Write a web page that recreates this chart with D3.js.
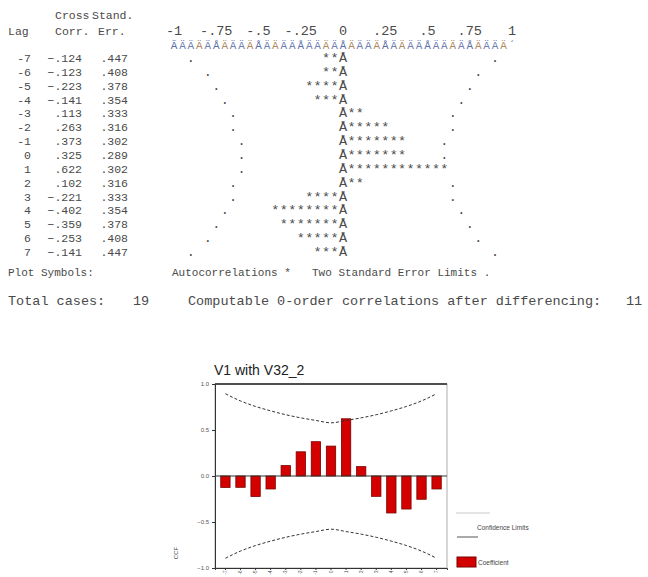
<!DOCTYPE html>
<html><head><meta charset="utf-8">
<script src="https://cdn.jsdelivr.net/npm/d3@7"></script>
<style>
html,body{margin:0;padding:0;background:#fff;}
svg{display:block;}
.mono{font-family:"Liberation Mono","DejaVu Sans Mono",monospace;font-size:13.5px;fill:#4a4a4a;}
.tbl{font-size:11.5px;}
.sans{font-family:"Liberation Sans",Arial,sans-serif;}
</style></head>
<body>
<svg id="c" width="648" height="577"></svg>
<script>
// ---- data ----
const lags = [-7,-6,-5,-4,-3,-2,-1,0,1,2,3,4,5,6,7];
const corr = [-.124,-.123,-.223,-.141,.113,.263,.373,.325,.622,.102,-.221,-.402,-.359,-.253,-.141];
const stdErr = [.447,.408,.378,.354,.333,.316,.302,.289,.302,.316,.333,.354,.378,.408,.447];
const scaleTicks = [-1,-.75,-.5,-.25,0,.25,.5,.75,1];
const scaleLabels = ["-1","-.75","-.5","-.25","0",".25",".5",".75","1"];
const yTicks = [1.0,0.5,0.0,-0.5,-1.0];
const chartTitle = "V1 with V32_2";
const footer1 = ["Plot Symbols:","Autocorrelations *","Two Standard Error Limits ."];
const footer2 = ["Total cases:","19","Computable 0-order correlations after differencing:","11"];
const legendLabels = ["Confidence Limits","Coefficient"];

const svg = d3.select("#c");
const fmt = v => d3.format(".3f")(v).replace("0.", ".");

// ---- text table ----
const ax = d3.scaleLinear().domain([-1,1]).range([174,512]);
const rowY = d3.scaleLinear().domain([0,14]).range([62,256]);

svg.append("text").attr("class","mono tbl").attr("x",55).attr("y",19).text("Cross");
svg.append("text").attr("class","mono tbl").attr("x",92).attr("y",19).text("Stand.");
svg.append("text").attr("class","mono tbl").attr("x",8).attr("y",35).text("Lag");
svg.append("text").attr("class","mono tbl").attr("x",55).attr("y",35).text("Corr.");
svg.append("text").attr("class","mono tbl").attr("x",98).attr("y",35).text("Err.");
svg.selectAll("text.sl").data(scaleTicks).join("text").attr("class","mono sl")
  .attr("x",d=>ax(d)).attr("y",35).attr("text-anchor","middle")
  .text((d,i)=>scaleLabels[i]);

// axis line of box chars
const cols = d3.range(-20,21);
svg.selectAll("text.ln").data(cols).join("text").attr("class","mono ln")
  .attr("x",k=>ax(k*0.05)).attr("y",49).attr("text-anchor","middle")
  .style("fill",k=> (k%5===0) ? "#5a6ea8" : ((k+20)%3===0 ? "#b08a60" : "#6f7fb0"))
  .style("font-size","11px")
  .text(k=> k===-20 ? "Ã" : (k===20 ? "´" : (k%5===0 ? "Å" : "Ä")));

const rows = svg.append("g");
lags.forEach((lag,i)=>{
  const y = rowY(i);
  rows.append("text").attr("class","mono tbl").attr("x",31).attr("y",y).attr("text-anchor","end").text(lag);
  rows.append("text").attr("class","mono tbl").attr("x",82).attr("y",y).attr("text-anchor","end").text(fmt(corr[i]));
  rows.append("text").attr("class","mono tbl").attr("x",128).attr("y",y).attr("text-anchor","end").text(fmt(stdErr[i]));
  const n = Math.round(corr[i]/0.05);
  const lim = Math.round(2*stdErr[i]/0.05);
  const chars = [];
  cols.forEach(k=>{
    let c = null;
    if (k===lim || k===-lim) c = ".";
    if (n>0 && k>0 && k<=n) c = "*";
    if (n<0 && k<0 && k>=n) c = "*";
    if (k===0) c = "Å";
    if (c) chars.push({k,c});
  });
  rows.selectAll(null).data(chars).join("text").attr("class","mono")
    .attr("x",d=>ax(d.k*0.05)).attr("y",y).attr("text-anchor","middle").text(d=>d.c);
});

svg.append("text").attr("class","mono").attr("x",8).attr("y",276).style("font-size","11px").text(footer1[0]);
svg.append("text").attr("class","mono").attr("x",172).attr("y",276).style("font-size","11px").text(footer1[1]);
svg.append("text").attr("class","mono").attr("x",312).attr("y",276).style("font-size","11px").text(footer1[2]);
svg.append("text").attr("class","mono").attr("x",8).attr("y",305).text(footer2[0]);
svg.append("text").attr("class","mono").attr("x",133).attr("y",305).text(footer2[1]);
svg.append("text").attr("class","mono").attr("x",188).attr("y",305).text(footer2[2]);
svg.append("text").attr("class","mono").attr("x",626).attr("y",305).text(footer2[3]);

// ---- bar chart ----
const L=215, R=447, T=384, B=568;
const x = d3.scaleBand().domain(lags).range([L,R]).padding(0.38);
const y = d3.scaleLinear().domain([-1,1]).range([B,T]);

svg.append("text").attr("class","sans").attr("x",214).attr("y",375)
  .style("font-size","14px").style("fill","#222").text(chartTitle);

// frame
svg.append("rect").attr("x",L).attr("y",T).attr("width",R-L).attr("height",B-T)
  .attr("fill","#fff").attr("stroke","#999").attr("stroke-width",0.8);
svg.append("line").attr("x1",L).attr("x2",R).attr("y1",T).attr("y2",T).attr("stroke","#222").attr("stroke-width",1.5);

// y axis
const yAxis = d3.axisLeft(y).tickValues(yTicks).tickFormat(d3.format(".1f")).tickSize(3);
const gy = svg.append("g").attr("transform",`translate(${L},0)`).call(yAxis);
gy.select(".domain").attr("stroke","#333");
gy.selectAll(".tick line").attr("stroke","#333");
gy.selectAll(".tick text").attr("font-size","6px").attr("fill","#555").attr("font-family","Liberation Sans, Arial");

// x axis
const xAxis = d3.axisBottom(x).tickSize(2);
const gx = svg.append("g").attr("transform",`translate(0,${B})`).call(xAxis);
gx.select(".domain").attr("stroke","#333");
gx.selectAll(".tick line").attr("stroke","#333");
gx.selectAll(".tick text").attr("font-size","4.5px").attr("fill","#444").attr("font-family","Liberation Sans, Arial")
  .attr("text-anchor","end").attr("dx",0).attr("dy","0.35em")
  .attr("x",0).attr("y",0).attr("transform","translate(0,2.5) rotate(-90)");

// y axis title (rotated)
svg.append("text").attr("class","sans").attr("transform","translate(178,553) rotate(-90)")
  .attr("text-anchor","middle").style("font-size","6px").style("fill","#444").text("CCF");

// bars
svg.selectAll("rect.bar").data(lags).join("rect").attr("class","bar")
  .attr("x",d=>x(d)).attr("width",x.bandwidth())
  .attr("y",(d,i)=>y(Math.max(0,corr[i])))
  .attr("height",(d,i)=>Math.abs(y(corr[i])-y(0)))
  .attr("fill","#d40000").attr("stroke","#7a0000").attr("stroke-width",0.8);

// zero line
svg.append("line").attr("x1",L).attr("x2",R).attr("y1",y(0)).attr("y2",y(0))
  .attr("stroke","#333").attr("stroke-width",1.2);

// confidence limits
const cx = d => x(d)+x.bandwidth()/2;
const up = d3.line().x((d,i)=>cx(lags[i])).y(d=>y(2*d)).curve(d3.curveMonotoneX);
const lo = d3.line().x((d,i)=>cx(lags[i])).y(d=>y(-2*d)).curve(d3.curveMonotoneX);
[up,lo].forEach(g=>svg.append("path").attr("d",g(stdErr)).attr("fill","none")
  .attr("stroke","#333").attr("stroke-width",1).attr("stroke-dasharray","3,2"));

// legend
svg.append("line").attr("x1",456).attr("x2",490).attr("y1",513).attr("y2",513).attr("stroke","#bbb").attr("stroke-width",0.8);
svg.append("text").attr("class","sans").attr("x",477).attr("y",530).style("font-size","6.5px").style("fill","#444").text(legendLabels[0]);
svg.append("line").attr("x1",457).attr("x2",478).attr("y1",537).attr("y2",537).attr("stroke","#555").attr("stroke-width",1);
svg.append("rect").attr("x",457).attr("y",557).attr("width",19).attr("height",10).attr("fill","#d40000").attr("stroke","#7a0000");
svg.append("text").attr("class","sans").attr("x",478).attr("y",565).style("font-size","6.5px").style("fill","#444").text(legendLabels[1]);
</script>
</body></html>
